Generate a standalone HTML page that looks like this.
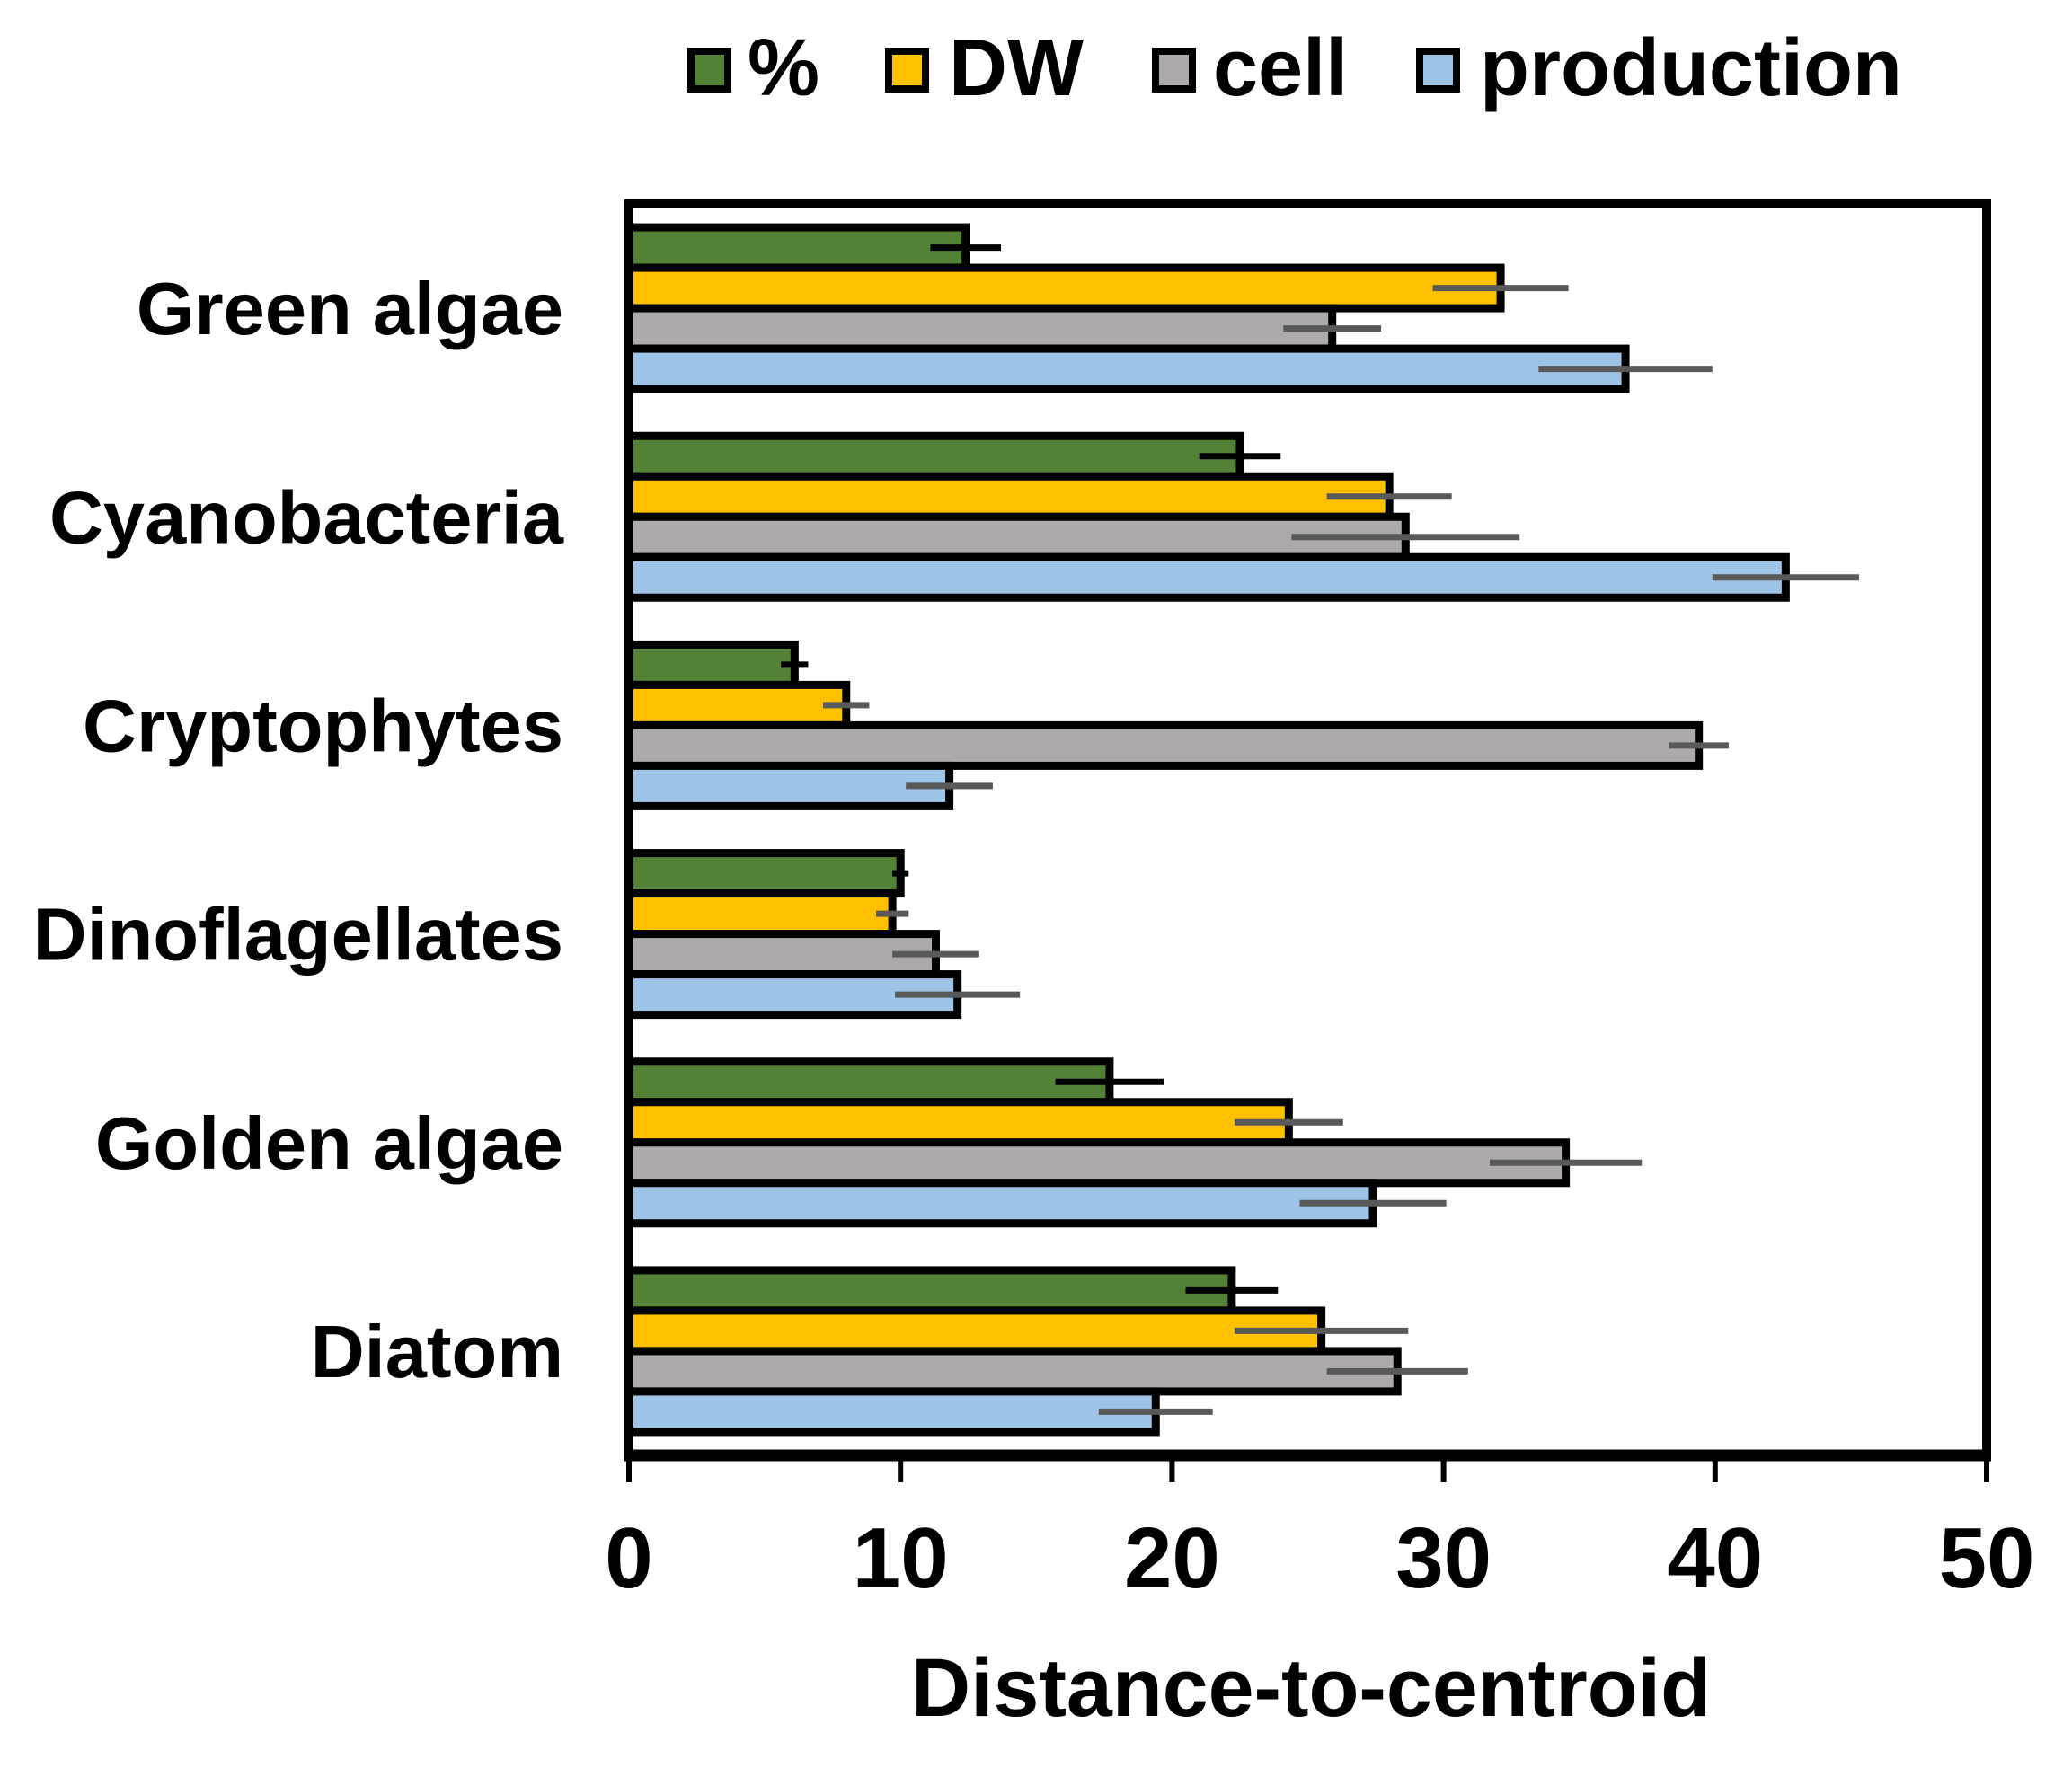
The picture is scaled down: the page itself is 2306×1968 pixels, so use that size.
<!DOCTYPE html>
<html><head><meta charset="utf-8"><style>
html,body{margin:0;padding:0;background:#fff;}
svg{display:block;font-family:"Liberation Sans",Arial,sans-serif;font-weight:bold;}
</style></head><body>
<svg id="chart" width="2306" height="1968" viewBox="0 0 2306 1968" xmlns="http://www.w3.org/2000/svg">
<g id="bars"></g>
<g id="axes"></g>
<g id="legend"></g>
</svg>
<script>
const categories = ["Green algae","Cyanobacteria","Cryptophytes","Dinoflagellates","Golden algae","Diatom"];
const seriesNames = ["%","DW","cell","production"];
const pctVals  = [12.4, 22.5, 6.1, 10.0, 17.7, 22.2];
const pctErr   = [1.3, 1.5, 0.5, 0.3, 2.0, 1.7];
const dwVals   = [32.1, 28.0, 8.0, 9.7, 24.3, 25.5];
const dwErr    = [2.5, 2.3, 0.85, 0.6, 2.0, 3.2];
const cellVals = [25.9, 28.6, 39.4, 11.3, 34.5, 28.3];
const cellErr  = [1.8, 4.2, 1.1, 1.6, 2.8, 2.6];
const prodVals = [36.7, 42.6, 11.8, 12.1, 27.4, 19.4];
const prodErr  = [3.2, 2.7, 1.6, 2.3, 2.7, 2.1];
const xTicks = [0,10,20,30,40,50];

const NS="http://www.w3.org/2000/svg";
const L=700,R=2211,T=227,B=1620,XMAX=50;
const x=v=>L+(v/XMAX)*(R-L);
const band=(B-T)/categories.length;
const barH=45;
const colors=["#538135","#FFC000","#AEAAAA","#9DC3E6"];
const errColors=["#000","#595959","#595959","#595959"];
const vals=[pctVals,dwVals,cellVals,prodVals];
const errs=[pctErr,dwErr,cellErr,prodErr];
function mk(tag,attrs,parent){const e=document.createElementNS(NS,tag);for(const k in attrs)e.setAttribute(k,attrs[k]);parent.appendChild(e);return e;}
const gb=document.getElementById('bars');
categories.forEach((c,i)=>{
  const top=T+i*band+(band-4*barH)/2;
  for(let s=0;s<4;s++){
    const y=top+s*barH;
    const r=mk('rect',{x:x(0),y:y,width:x(vals[s][i])-x(0),height:barH,fill:colors[s],stroke:'#000','stroke-width':9},gb);
    
    
    const e=mk('line',{x1:x(vals[s][i]-errs[s][i]),x2:x(vals[s][i]+errs[s][i]),y1:y+barH/2,y2:y+barH/2,stroke:errColors[s],'stroke-width':7},gb);
    
    
    if(s===0){const v=mk('line',{x1:x(vals[s][i]),x2:x(vals[s][i]),y1:y+barH/2-9,y2:y+barH/2+9,stroke:'#000','stroke-width':7},gb);
      
      }
  }
  const t=mk('text',{x:627,y:T+i*band+band/2+29,'text-anchor':'end','font-size':83},document.getElementById('axes'));
  t.textContent=c;
  
  
});
const ga=document.getElementById('axes');
const fr=mk('rect',{x:L,y:T,width:R-L,height:B-T,fill:'none',stroke:'#000','stroke-width':10},ga);


mk('line',{x1:L-5,x2:R+5,y1:B,y2:B,stroke:'#000','stroke-width':13},ga);
xTicks.forEach(v=>{
  const tk=mk('line',{x1:x(v),x2:x(v),y1:B,y2:1650,stroke:'#000','stroke-width':6},ga);
  
  
  const t=mk('text',{x:x(v),y:1767,'text-anchor':'middle','font-size':96},ga);
  t.textContent=v;
  
  
});
const title=mk('text',{x:1459,y:1910,'text-anchor':'middle','font-size':92,textLength:890,lengthAdjust:'spacingAndGlyphs'},ga);
title.textContent='Distance-to-centroid';


const gl=document.getElementById('legend');
const lbx=[765,985,1282,1576], ltx=[832,1056,1350,1647];
seriesNames.forEach((n,s)=>{
  const b=mk('rect',{x:lbx[s]+4,y:57,width:41,height:42,fill:colors[s],stroke:'#000','stroke-width':8},gl);
  
  
  const t=mk('text',{x:ltx[s],y:106,'font-size':90},gl);
  t.textContent=n;
  
  
});
</script>
</body></html>
